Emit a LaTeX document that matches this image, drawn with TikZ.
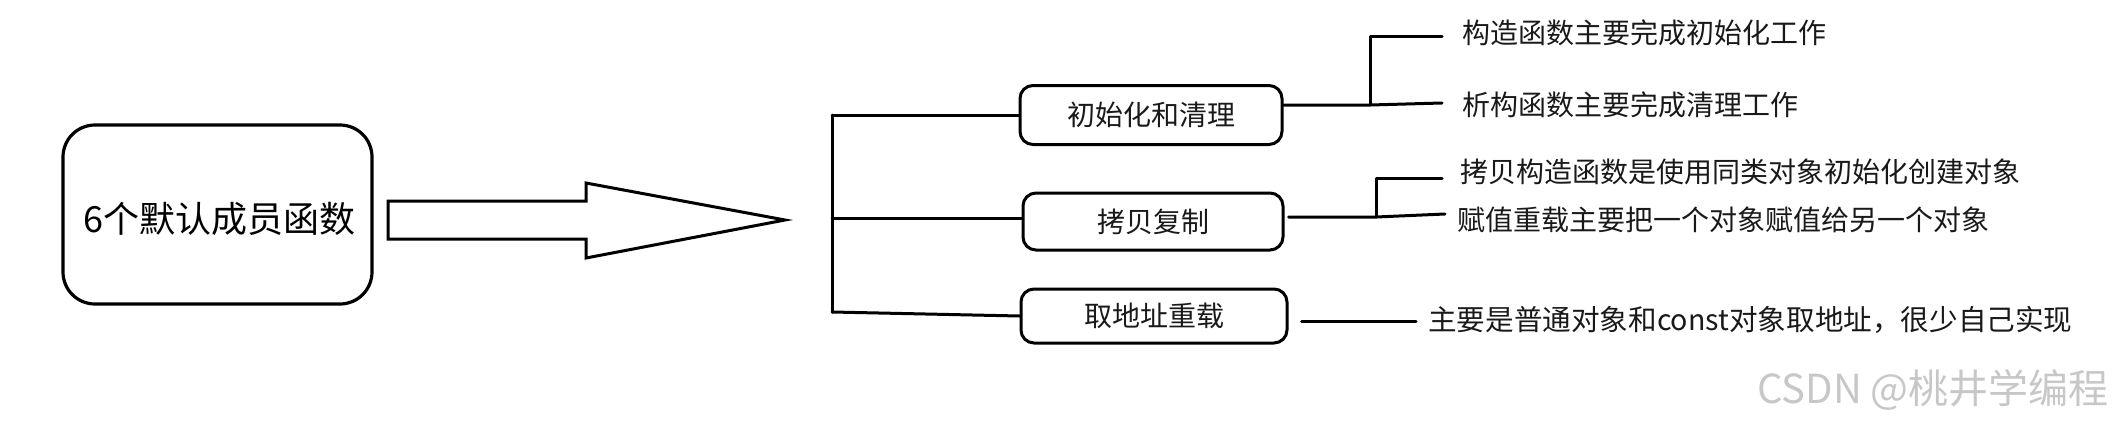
\documentclass[tikz,border=0pt]{standalone}
\usepackage{fontspec}
\setmainfont{Noto Sans CJK SC}
\begin{document}
\begin{tikzpicture}[x=1pt,y=-1pt,
  ln/.style={line width=3pt, line cap=round, line join=round},
  mainbox/.style={draw, line width=3.2pt, rounded corners=32pt, minimum width=309pt, minimum height=179pt, inner sep=0pt, font=\fontsize{36}{40}\selectfont},
  catbox/.style={draw, line width=3pt, rounded corners=13pt, inner sep=0pt, font=\fontsize{28}{32}\selectfont, text=black!90},
  leaf/.style={anchor=west, inner sep=0pt, font=\fontsize{28}{32}\selectfont, text=black!90},
  wm/.style={anchor=center, inner sep=0pt, font=\fontsize{40}{44}\selectfont, text=black!22}
]
\useasboundingbox (0,0) rectangle (2121,429);
% main node
\node[mainbox] (main) at (217.5,214.5) {};
\node[inner sep=0pt, font=\fontsize{36}{40}\selectfont] (maintext) at (219.5,219) {6个默认成员函数};
% block arrow
\draw[ln, line join=miter] (388,201) coordinate (a0) -- (586,201) -- (586,183) -- (785,220) coordinate (atip) -- (586,258) -- (586,239) -- (388,239) -- cycle;
% category boxes
\node[catbox, minimum width=262pt, minimum height=59pt] (b1) at (1151,115) {初始化和清理};
\node[catbox, minimum width=260pt, minimum height=57pt] (b2) at (1153,221.5) {拷贝复制};
\node[catbox, minimum width=266pt, minimum height=54pt] (b3) at (1154,316) {取地址重载};
% spine
\coordinate (s1) at (832,115);
\coordinate (s2) at (832,218);
\coordinate (s3) at (832,312);
\draw[ln] (s1) -- (s3);
\draw[ln] (s1) -- (b1.west);
\draw[ln] (s2) -- (s2 -| b2.west);
\draw[ln] (s3) -- (b3.west);
% leaves
\node[leaf] (t1) at (1462,33) {构造函数主要完成初始化工作};
\node[leaf] (t2) at (1462,105) {析构函数主要完成清理工作};
\node[leaf] (t3) at (1460,172) {拷贝构造函数是使用同类对象初始化创建对象};
\node[leaf] (t4) at (1457,220) {赋值重载主要把一个对象赋值给另一个对象};
\node[leaf, font=\fontsize{28.6}{32}\selectfont] (t5) at (1428,320) {主要是普通对象和const对象取地址，很少自己实现};
% connectors from box 1
\coordinate (j1) at (1370,105);
\coordinate (e1) at (1442,36);
\coordinate (e2) at (1442,103);
\draw[ln] (b1.east |- j1) -- (j1) -- (e2);
\draw[ln] (j1) |- (e1);
% connectors from box 2
\coordinate (j2) at (1376,217);
\coordinate (e3) at (1442,178);
\coordinate (e4) at (1445,214);
\draw[ln] ([xshift=4pt]b2.east |- j2) -- (j2) -- (e4);
\draw[ln] (j2) |- (e3);
% connector from box 3
\coordinate (e5) at (1416,321);
\draw[ln] ([xshift=13pt]b3.east |- e5) -- (e5);
% watermark
\node[wm] (wmk) at (1933,390) {CSDN @桃井学编程};
\end{tikzpicture}
\end{document}
